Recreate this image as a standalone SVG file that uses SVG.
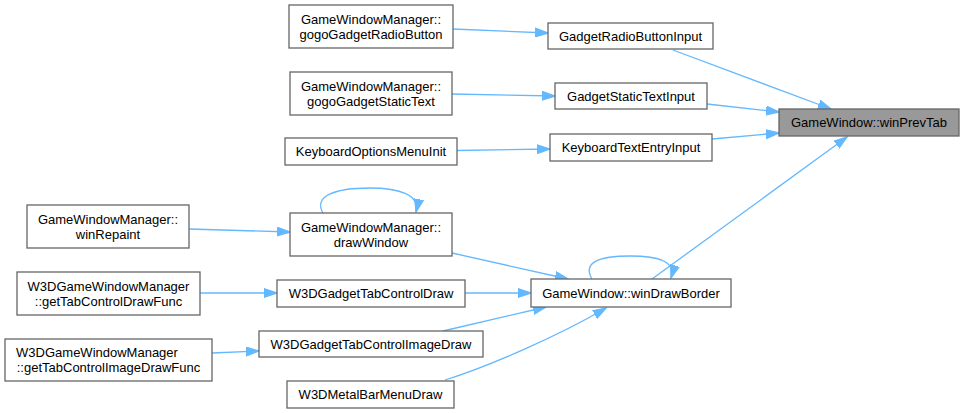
<svg xmlns="http://www.w3.org/2000/svg" width="964" height="413" viewBox="0 0 964 413">
<style>
.n rect{fill:#ffffff;stroke:#666666;stroke-width:1.3}
.n.hl rect{fill:#999999}
.n text{font-family:"Liberation Sans",Arial,sans-serif;font-size:13px;fill:#000000;text-anchor:middle}
.e path{fill:none;stroke:#63b8ff;stroke-width:1.3;marker-end:url(#ah)}
</style>
<defs>
<marker id="ah" markerUnits="userSpaceOnUse" markerWidth="14" markerHeight="10" viewBox="0 0 14 10" refX="13" refY="5" orient="auto">
<path d="M0,0.5 L13.5,5 L0,9.5 z" fill="#63b8ff" stroke="#63b8ff" stroke-width="1"/>
</marker>
</defs>
<rect width="964" height="413" fill="#ffffff"/>
<g id="edges" class="e">
<path d="M453,29 L548,33"/>
<path d="M452,94 L555,96"/>
<path d="M457,150.5 L550,149"/>
<path d="M673,50 L831,109"/>
<path d="M707,104 L779,112"/>
<path d="M712,139 L779,133"/>
<path d="M652,279 L847,137"/>
<path d="M592,279 C582,262 600,256 630,256 C660,256 676,262 671,278"/>
<path d="M323,213 C313,196 335,188 370,188 C400,188 420,195 416,212"/>
<path d="M189,229 L290,232"/>
<path d="M452,253 L568,279"/>
<path d="M200,293 L277,293"/>
<path d="M465,293 L531,293"/>
<path d="M212,353 L259,351"/>
<path d="M443,331 L546,307"/>
<path d="M445,380 C490,366 560,335 606,308"/>
</g>
<g id="gogoGadgetRadioButton" class="n"><rect x="289" y="5" width="164" height="43"/><text x="371" y="23.5">GameWindowManager::</text><text x="371" y="38.5">gogoGadgetRadioButton</text></g>
<g id="gogoGadgetStaticText" class="n"><rect x="290" y="72" width="162" height="43"/><text x="371" y="90.5">GameWindowManager::</text><text x="371" y="105.5">gogoGadgetStaticText</text></g>
<g id="KeyboardOptionsMenuInit" class="n"><rect x="285" y="138" width="172" height="27"/><text x="371" y="156">KeyboardOptionsMenuInit</text></g>
<g id="GadgetRadioButtonInput" class="n"><rect x="548" y="23" width="165" height="26"/><text x="630.5" y="40.5">GadgetRadioButtonInput</text></g>
<g id="GadgetStaticTextInput" class="n"><rect x="555" y="83" width="152" height="26"/><text x="631" y="100.5">GadgetStaticTextInput</text></g>
<g id="KeyboardTextEntryInput" class="n"><rect x="550" y="134" width="162" height="27"/><text x="631" y="152">KeyboardTextEntryInput</text></g>
<g id="winPrevTab" class="n hl"><rect x="779" y="109" width="180" height="27"/><text x="869" y="127">GameWindow::winPrevTab</text></g>
<g id="winRepaint" class="n"><rect x="27" y="205" width="162" height="43"/><text x="108" y="223.5">GameWindowManager::</text><text x="108" y="238.5">winRepaint</text></g>
<g id="getTabControlDrawFunc" class="n"><rect x="17" y="272" width="183" height="43"/><text x="108.5" y="290.5">W3DGameWindowManager</text><text x="108.5" y="305.5">::getTabControlDrawFunc</text></g>
<g id="getTabControlImageDrawFunc" class="n"><rect x="5" y="339" width="207" height="42"/><text x="97" y="357">W3DGameWindowManager</text><text x="108.5" y="372">::getTabControlImageDrawFunc</text></g>
<g id="drawWindow" class="n"><rect x="290" y="213" width="162" height="43"/><text x="371" y="231.5">GameWindowManager::</text><text x="371" y="246.5">drawWindow</text></g>
<g id="W3DGadgetTabControlDraw" class="n"><rect x="277" y="280" width="188" height="27"/><text x="371" y="298">W3DGadgetTabControlDraw</text></g>
<g id="W3DGadgetTabControlImageDraw" class="n"><rect x="259" y="331" width="224" height="26"/><text x="371" y="348.5">W3DGadgetTabControlImageDraw</text></g>
<g id="W3DMetalBarMenuDraw" class="n"><rect x="287" y="381" width="167" height="27"/><text x="370.5" y="399">W3DMetalBarMenuDraw</text></g>
<g id="winDrawBorder" class="n"><rect x="531" y="279" width="200" height="28"/><text x="631" y="297.5">GameWindow::winDrawBorder</text></g>
</svg>
